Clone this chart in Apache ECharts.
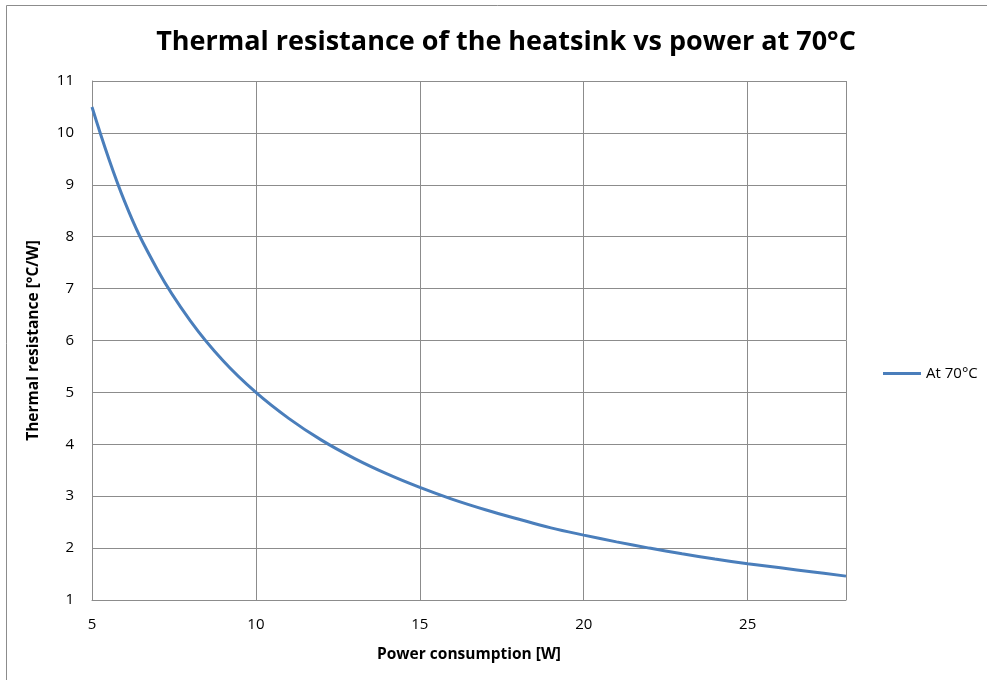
<!DOCTYPE html>
<html>
<head>
    <meta charset="utf-8">
    <title>Thermal resistance</title>
    <script src="https://cdn.jsdelivr.net/npm/echarts@6/dist/echarts.min.js"></script>
    <style>
        html, body { margin: 0; padding: 0; background: #fff; }
        #main { width: 987px; height: 680px; }
    </style>
</head>
<body>
<div id="main"></div>
<script type="text/javascript">
    // power consumption [W]
    var power = [5, 6, 7, 8, 9, 10, 11, 12, 13, 14, 15, 16, 17, 18, 19, 20, 21, 22, 23, 24, 25, 26, 27, 28];
    // thermal resistance [°C/W]
    var resistance = [10.5, 8.67, 7.36, 6.38, 5.61, 5.0, 4.5, 4.08, 3.73, 3.43, 3.17, 2.94, 2.74, 2.56,
        2.39, 2.25, 2.12, 2.0, 1.89, 1.79, 1.7, 1.62, 1.54, 1.46];
    var seriesName = 'At 70°C';

    var points = [];
    for (var i = 0; i < power.length; i++) {
        points.push([power[i], resistance[i]]);
    }

    var myChart = echarts.init(document.getElementById('main'));
    var fontFam = '"Open Sans", "Noto Sans", sans-serif';

    var option = {
        backgroundColor: '#fff',
        animation: false,
        title: {
            text: 'Thermal resistance of the heatsink vs power at 70°C',
            left: 501,
            textAlign: 'center',
            top: 24,
            textStyle: {fontFamily: fontFam, fontSize: 27, fontWeight: 'bold', color: '#000'}
        },
        graphic: [{
            type: 'rect',
            shape: {x: 6.5, y: 5.5, width: 990, height: 700},
            style: {fill: 'none', stroke: '#8c8c8c', lineWidth: 1},
            silent: true
        }],
        legend: {
            orient: 'vertical',
            left: 878,
            top: 361,
            itemWidth: 38,
            itemHeight: 3,
            itemGap: 5,
            icon: 'rect',
            textStyle: {fontFamily: fontFam, fontSize: 15, color: '#000'},
            data: [seriesName]
        },
        grid: {left: 92, right: 141, top: 81, bottom: 80},
        xAxis: {
            type: 'value',
            min: 5,
            max: 28,
            interval: 5,
            name: 'Power consumption [W]',
            nameLocation: 'middle',
            nameGap: 47,
            nameTextStyle: {fontFamily: fontFam, fontSize: 15.5, fontWeight: 'bold', color: '#000'},
            axisLine: {show: true, lineStyle: {color: '#8c8c8c', width: 1}},
            axisTick: {show: false},
            axisLabel: {fontFamily: fontFam, fontSize: 15, color: '#000', margin: 17, showMaxLabel: false},
            splitLine: {show: true, lineStyle: {color: '#8c8c8c', width: 1}}
        },
        yAxis: {
            type: 'value',
            min: 1,
            max: 11,
            interval: 1,
            name: 'Thermal resistance [°C/W]',
            nameLocation: 'middle',
            nameGap: 50,
            nameRotate: 90,
            nameTextStyle: {fontFamily: fontFam, fontSize: 15.5, fontWeight: 'bold', color: '#000'},
            axisLine: {show: true, lineStyle: {color: '#8c8c8c', width: 1}},
            axisTick: {show: false},
            axisLabel: {fontFamily: fontFam, fontSize: 15, color: '#000', margin: 18},
            splitLine: {show: true, lineStyle: {color: '#8c8c8c', width: 1}}
        },
        series: [{
            name: seriesName,
            type: 'line',
            data: points,
            smooth: 0.4,
            showSymbol: false,
            lineStyle: {color: '#4a7ebb', width: 3},
            itemStyle: {color: '#4a7ebb'}
        }]
    };

    myChart.setOption(option);
</script>
</body>
</html>
